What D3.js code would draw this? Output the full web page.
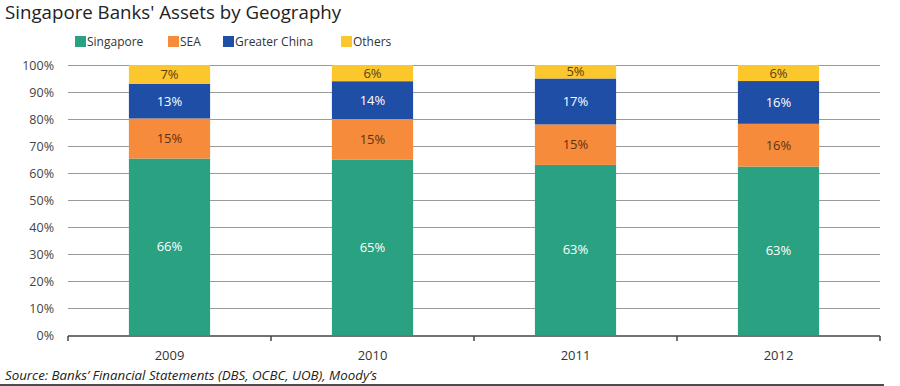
<!DOCTYPE html>
<html>
<head>
<meta charset="utf-8">
<script src="https://cdn.jsdelivr.net/npm/d3@7"></script>
<style>
  body { margin: 0; background: #fff; }
  svg { display: block; font-family: "Open Sans", "Noto Sans", sans-serif; }
</style>
</head>
<body>
<svg id="chart" width="900" height="386"></svg>
<script>
// data
var years = ["2009", "2010", "2011", "2012"];
var seriesNames = ["Singapore", "SEA", "Greater China", "Others"];
var singapore = [66, 65, 63, 63];
var sea = [15, 15, 15, 16];
var greaterChina = [13, 14, 17, 16];
var others = [7, 6, 5, 6];
var yTicks = [0, 10, 20, 30, 40, 50, 60, 70, 80, 90, 100];

var colors = ["#2aa281", "#f58b3b", "#1f4ea6", "#fcc62d"];
var labelColors = ["#ffffff", "#5a3414", "#ffffff", "#5a3f10"];

var svg = d3.select("#chart");
var plotLeft = 68, plotRight = 880, plotTop = 65, plotBottom = 335;

// build table for d3.stack
var table = years.map(function(y, i){
  return { year: y, "Singapore": singapore[i], "SEA": sea[i], "Greater China": greaterChina[i], "Others": others[i] };
});
var stacked = d3.stack().keys(seriesNames).offset(d3.stackOffsetExpand)(table);

var x = d3.scaleBand().domain(years).range([plotLeft, plotRight]).paddingInner(0.6).paddingOuter(0.3);
var xTicksScale = d3.scaleBand().domain(years).range([plotLeft, plotRight]);
var y = d3.scaleLinear().domain([0, 1]).range([plotBottom, plotTop]);

// title
svg.append("text")
  .attr("x", 5).attr("y", 19)
  .attr("font-size", 18.7)
  .attr("fill", "#222")
  .text("Singapore Banks' Assets by Geography");

// legend
var legendX = [75, 168, 223, 341];
var lg = svg.selectAll(".legend").data(seriesNames).enter().append("g")
  .attr("class", "legend")
  .attr("transform", function(d, i){ return "translate(" + legendX[i] + ",36)"; });
lg.append("rect").attr("width", 11).attr("height", 11).attr("fill", function(d, i){ return colors[i]; });
lg.append("text").attr("x", 12).attr("y", 10).attr("font-size", 12).attr("fill", "#333").text(function(d){ return d; });

// gridlines
svg.append("g").selectAll("line").data(yTicks.filter(function(t){ return t > 0; })).enter().append("line")
  .attr("x1", plotLeft).attr("x2", plotRight)
  .attr("y1", function(d){ return y(d / 100) + 0.5; })
  .attr("y2", function(d){ return y(d / 100) + 0.5; })
  .attr("stroke", "#9a9a9a").attr("stroke-width", 1.2);

// y axis labels
svg.append("g").selectAll("text").data(yTicks).enter().append("text")
  .attr("x", 54)
  .attr("y", function(d){ return y(d / 100) + 4.5; })
  .attr("text-anchor", "end")
  .attr("font-size", 12.5)
  .attr("fill", "#444")
  .text(function(d){ return d + "%"; });

// bars
var layers = svg.selectAll(".layer").data(stacked).enter().append("g").attr("class", "layer")
  .attr("fill", function(d){ return colors[d.index]; });
layers.selectAll("rect").data(function(d){ return d; }).enter().append("rect")
  .attr("x", function(d){ return x(d.data.year); })
  .attr("width", x.bandwidth())
  .attr("y", function(d){ return y(d[1]); })
  .attr("height", function(d){ return y(d[0]) - y(d[1]); });

// segment labels
stacked.forEach(function(layer, si){
  svg.append("g").selectAll("text").data(layer).enter().append("text")
    .attr("x", function(d){ return x(d.data.year) + x.bandwidth() / 2; })
    .attr("y", function(d){ return (y(d[0]) + y(d[1])) / 2 + 4.5; })
    .attr("text-anchor", "middle")
    .attr("font-size", 13)
    .attr("fill", labelColors[si])
    .text(function(d){ return d.data[layer.key] + "%"; });
});

// x axis
var xAxis = svg.append("g").attr("transform", "translate(0," + (plotBottom + 1) + ")");
xAxis.append("line").attr("x1", plotLeft).attr("x2", plotRight).attr("stroke", "#444").attr("stroke-width", 1.5);
var tickPos = years.map(function(d){ return xTicksScale(d); }).concat([plotRight]);
xAxis.selectAll(".tick").data(tickPos).enter().append("line")
  .attr("x1", function(d){ return d; }).attr("x2", function(d){ return d; })
  .attr("y1", 0).attr("y2", 5)
  .attr("stroke", "#444").attr("stroke-width", 1.5);
xAxis.selectAll("text").data(years).enter().append("text")
  .attr("x", function(d){ return x(d) + x.bandwidth() / 2; })
  .attr("y", 24)
  .attr("text-anchor", "middle")
  .attr("font-size", 13)
  .attr("fill", "#333")
  .text(function(d){ return d; });

// source
svg.append("text")
  .attr("x", 5).attr("y", 380)
  .attr("font-size", 13.3)
  .attr("font-style", "italic")
  .attr("fill", "#222")
  .text("Source: Banks\u2019 Financial Statements (DBS, OCBC, UOB), Moody\u2019s");
svg.append("line").attr("x1", 0).attr("x2", 884).attr("y1", 385).attr("y2", 385)
  .attr("stroke", "#111").attr("stroke-width", 1.5);
</script>
</body>
</html>
